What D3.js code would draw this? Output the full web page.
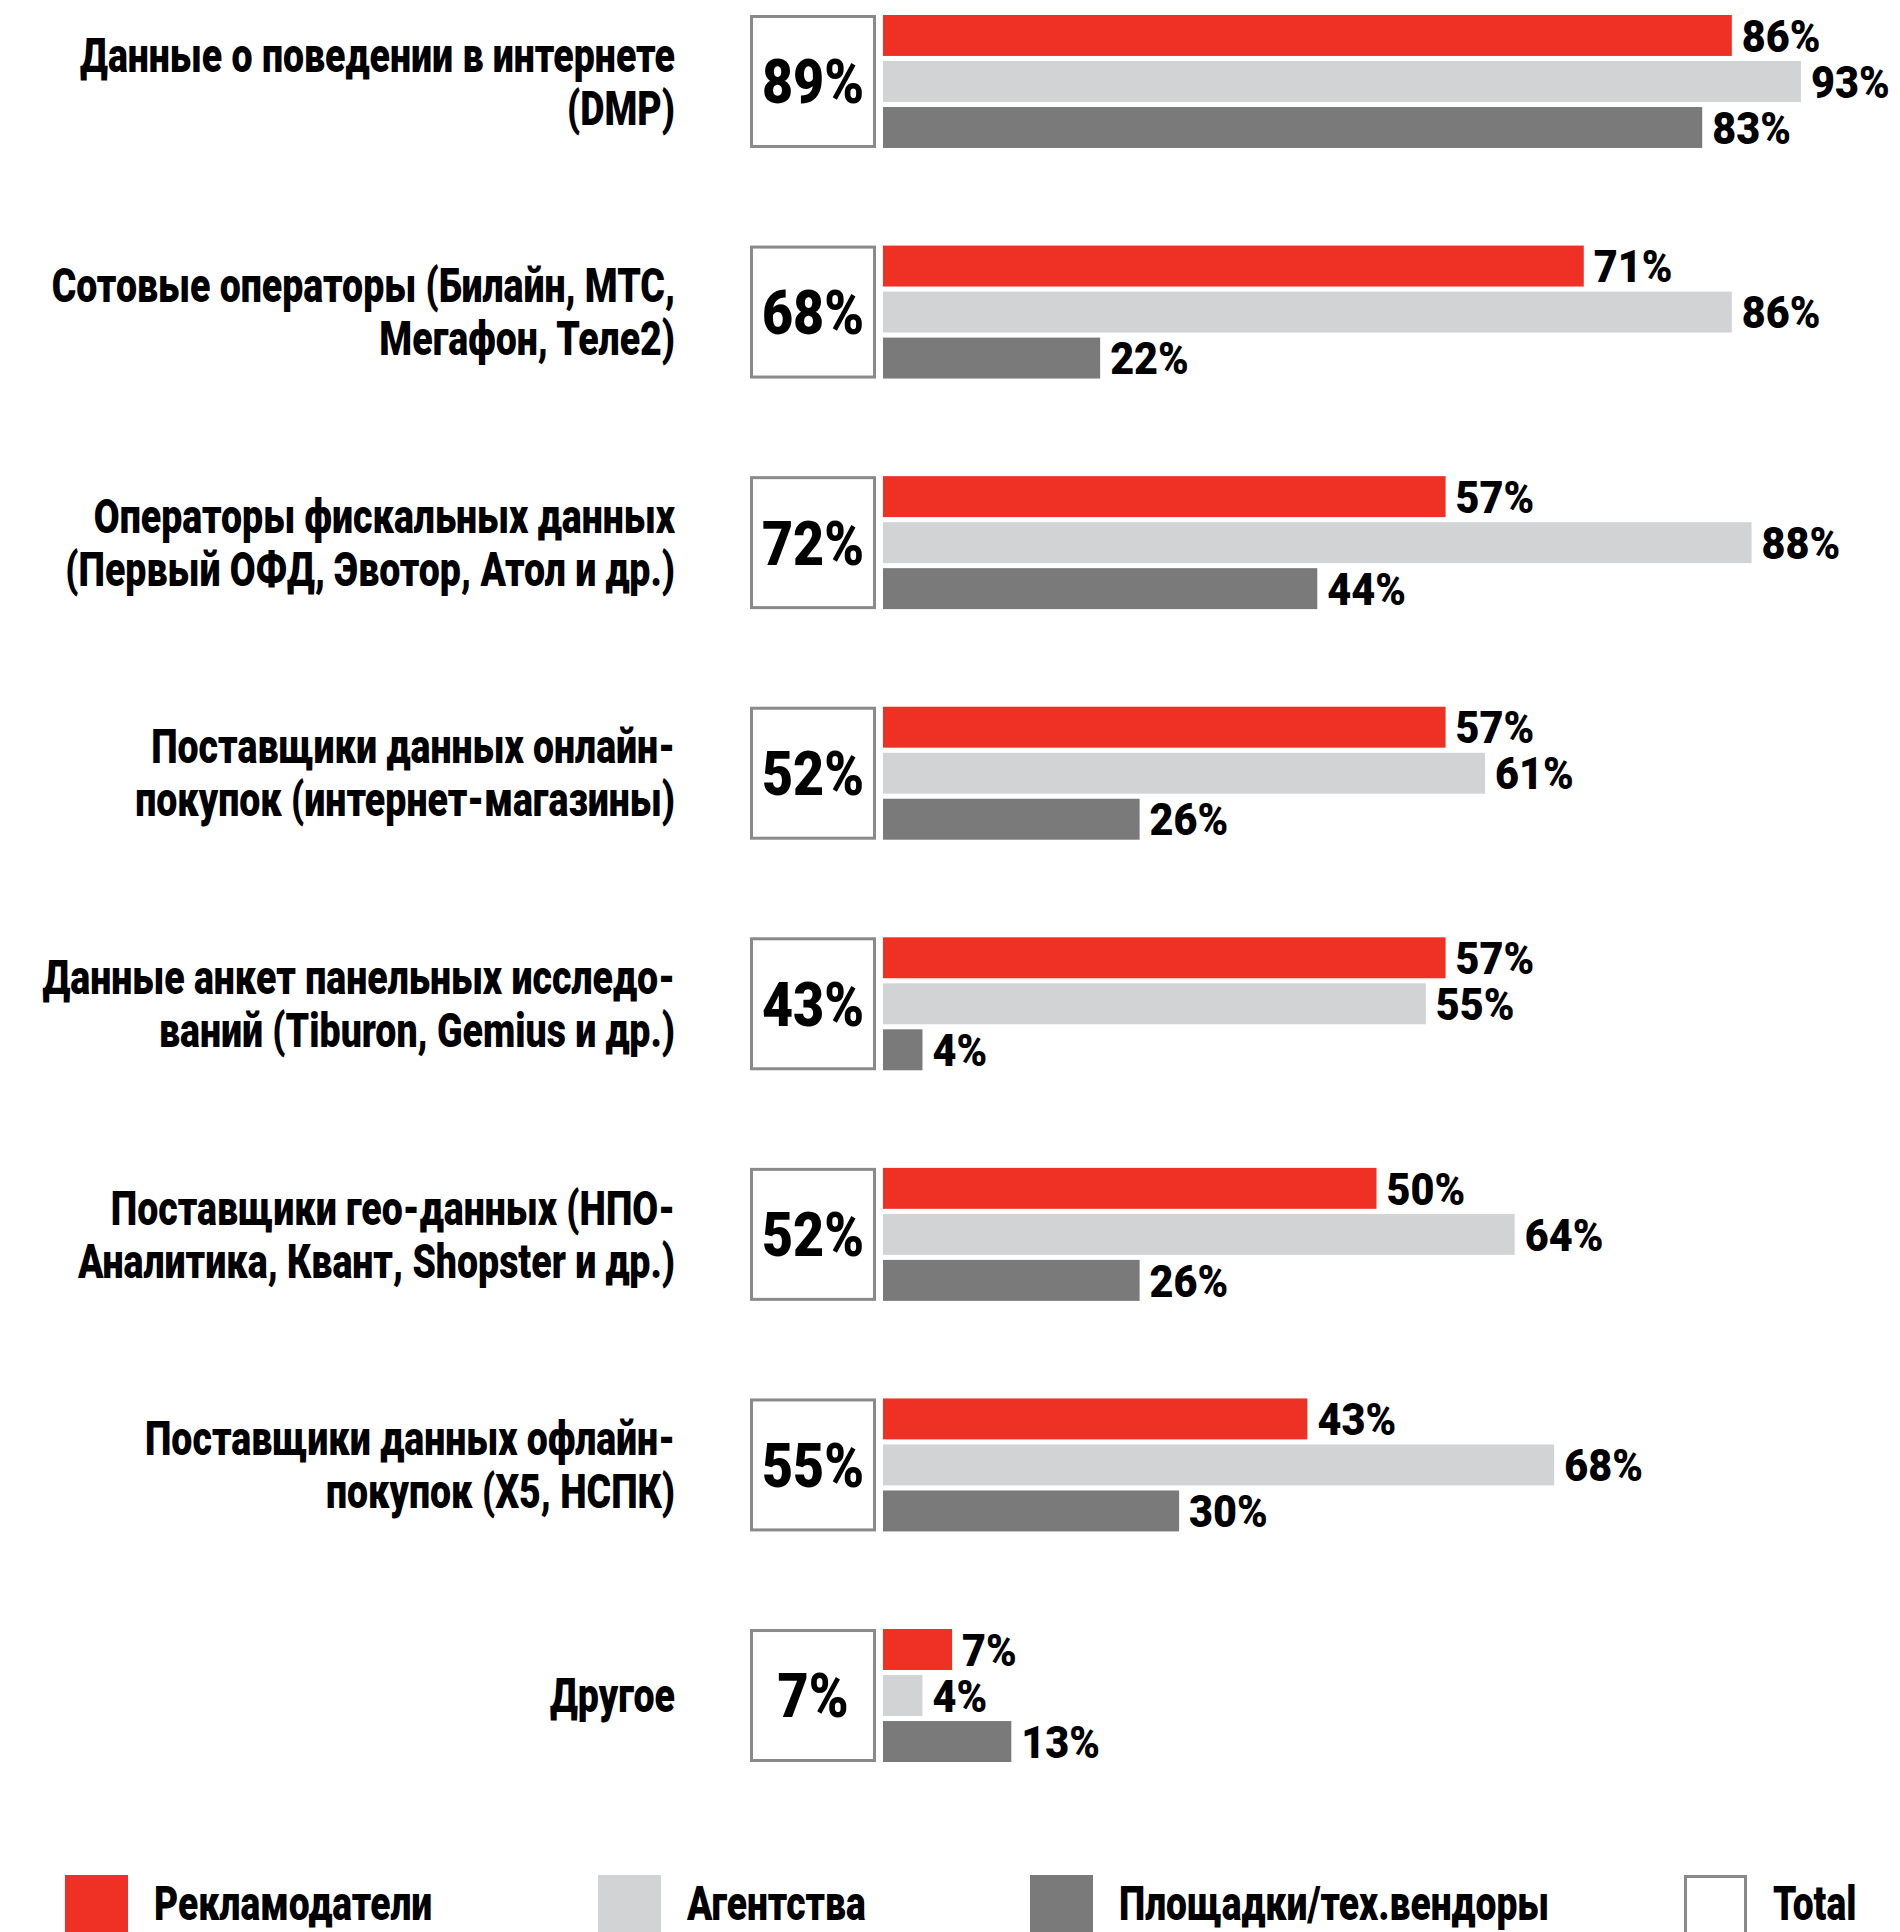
<!DOCTYPE html>
<html lang="ru">
<head>
<meta charset="utf-8">
<script src="https://cdn.jsdelivr.net/npm/d3@7/dist/d3.min.js"></script>
<style>
  html, body { margin: 0; padding: 0; background: #fff; }
  svg { display: block; }
  text { font-family: Roboto, "Liberation Sans", "DejaVu Sans", sans-serif; font-weight: 900; fill: #000; }
</style>
</head>
<body>
<div id="chart"></div>
<script>
// Источники данных (строки подписей разделены "\n")
const categories = [
  "Данные о поведении в интернете\n(DMP)",
  "Сотовые операторы (Билайн, МТС,\nМегафон, Теле2)",
  "Операторы фискальных данных\n(Первый ОФД, Эвотор, Атол и др.)",
  "Поставщики данных онлайн-\nпокупок (интернет-магазины)",
  "Данные анкет панельных исследо-\nваний (Tiburon, Gemius и др.)",
  "Поставщики гео-данных (НПО-\nАналитика, Квант, Shopster и др.)",
  "Поставщики данных офлайн-\nпокупок (X5, НСПК)",
  "Другое"
];
const advertisers = [86, 71, 57, 57, 57, 50, 43, 7];
const agencies    = [93, 86, 88, 61, 55, 64, 68, 4];
const platforms   = [83, 22, 44, 26, 4, 26, 30, 13];
const totals      = [89, 68, 72, 52, 43, 52, 55, 7];
const seriesNames = ["Рекламодатели", "Агентства", "Площадки/тех.вендоры"];
const totalName   = "Total";

const W = 1900, H = 1932;
const colors = { "Рекламодатели": "#ee3124", "Агентства": "#d2d3d5", "Площадки/тех.вендоры": "#7a7a7a" };
const SX = 0.765;     // горизонтальное сжатие шрифта (узкое начертание)

const svg = d3.select("#chart").append("svg").attr("width", W).attr("height", H);

const x = d3.scaleLinear().domain([0, 100]).range([883, 1870]);
const y = d3.scaleBand().domain(categories).range([15, 1762]).paddingInner(0.4233).paddingOuter(0);
const ySub = d3.scaleBand().domain(seriesNames).range([0, y.bandwidth()]).paddingInner(0.11);

const rows = categories.map((c, i) => ({
  cat: c, total: totals[i],
  vals: [advertisers[i], agencies[i], platforms[i]].map((v, k) => ({ key: seriesNames[k], v }))
}));

function squeezed(sel, xPos, yPos, s) {
  return sel.append("g").attr("transform", `translate(${xPos},${yPos}) scale(${s},1)`).append("text");
}

const g = svg.selectAll("g.row").data(rows).join("g").attr("class", "row")
  .attr("transform", d => `translate(0,${y(d.cat)})`);

// Подписи категорий
g.each(function(d) {
  const lines = d.cat.split("\n");
  const lh = 53;
  const c = y.bandwidth() / 2;
  lines.forEach((ln, j) => {
    const yy = c + (j - (lines.length - 1) / 2) * lh;
    squeezed(d3.select(this), 675, yy, SX)
      .attr("text-anchor", "end").attr("dy", "0.34em")
      .style("font-size", "49px").text(ln);
  });
});

// Рамка с общим значением
g.append("rect").attr("x", 751.5).attr("y", 1.5).attr("width", 123).attr("height", y.bandwidth() - 3)
  .attr("fill", "#fff").attr("stroke", "#8a8a8a").attr("stroke-width", 3);
g.each(function(d) {
  squeezed(d3.select(this), 813, y.bandwidth() / 2, 0.88)
    .attr("text-anchor", "middle").attr("dy", "0.36em")
    .style("font-size", "61px").text(d.total + "%");
});

// Столбцы по группам респондентов
const bars = g.selectAll("g.bar").data(d => d.vals).join("g").attr("class", "bar");
bars.append("rect")
  .attr("x", x(0)).attr("y", d => ySub(d.key))
  .attr("width", d => x(d.v) - x(0)).attr("height", ySub.bandwidth())
  .attr("fill", d => colors[d.key]);
bars.each(function(d) {
  squeezed(d3.select(this), x(d.v) + 10, ySub(d.key) + ySub.bandwidth() / 2, 0.92)
    .attr("dy", "0.36em").style("font-size", "45px").text(d.v + "%");
});

// Легенда
const legend = [
  { name: seriesNames[0], x: 65, fill: colors[seriesNames[0]] },
  { name: seriesNames[1], x: 598, fill: colors[seriesNames[1]] },
  { name: seriesNames[2], x: 1030, fill: colors[seriesNames[2]] },
  { name: totalName, x: 1684, fill: "#fff", stroke: "#8a8a8a" }
];
const lg = svg.selectAll("g.lg").data(legend).join("g").attr("class", "lg");
lg.append("rect")
  .attr("x", d => d.stroke ? d.x + 1.5 : d.x).attr("y", d => d.stroke ? 1876.5 : 1875)
  .attr("width", d => d.stroke ? 60 : 63).attr("height", 70)
  .attr("fill", d => d.fill).attr("stroke", d => d.stroke || "none").attr("stroke-width", 3);
lg.each(function(d) {
  squeezed(d3.select(this), d.x + 89, 1903, 0.775).attr("dy", "0.36em").style("font-size", "48px").text(d.name);
});
</script>
</body>
</html>
